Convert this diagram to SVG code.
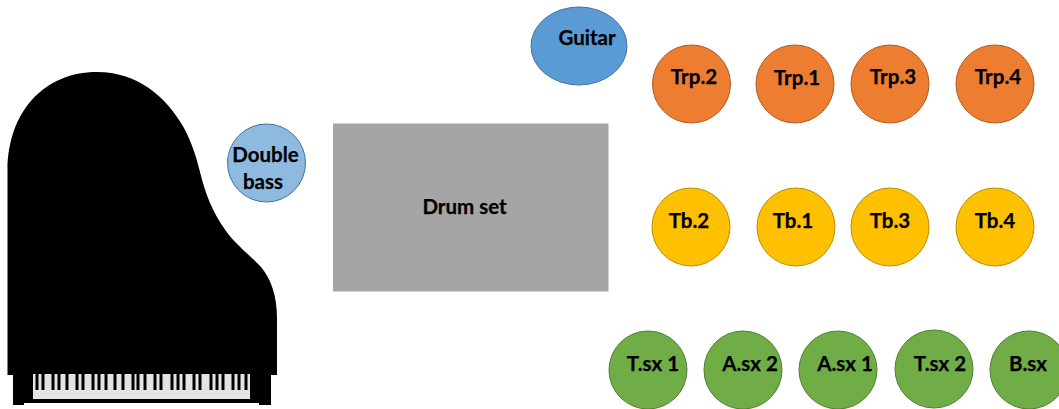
<svg xmlns="http://www.w3.org/2000/svg" width="1059" height="409" viewBox="0 0 1059 409">
<style>
text{font-family:Lato,"Liberation Sans",sans-serif;font-weight:700;font-size:20.5px;fill:#000;text-anchor:middle;stroke:#000;stroke-width:.25px}
.brass{fill:#ed7d31;stroke:#ae5a21;stroke-width:1}
.tb{fill:#ffc000;stroke:#bc8c00;stroke-width:1}
.sax{fill:#70ad47;stroke:#507e32;stroke-width:1}
</style>
<rect width="1059" height="409" fill="#fff"/>
<g id="piano">
<path fill="#000" d="M7.500 375V170C8 112 44 72 97 72C137 72 166 96 184 128C193 145 197 160 200 172C205 192 212 212 226 231C237 246 250 255 261 267C271 279 277 296 277 318V375H271V405H13V375Z"/>
<rect x="24" y="403" width="235" height="6" fill="#fff"/>
<rect x="33" y="374" width="217" height="25" fill="#e4e4e4"/>
<!-- black keys, in their groups of two and three -->
<path id="keys" stroke="#000" stroke-width="3" d="M37 374v16M43 374v16M53 374v16M59 374v16M67 374v16M77 374v16M83 374v16M93 374v16M99 374v16M106 374v16M115 374v16M123 374v16M133 374v16M138 374v16M145 374v16M155 374v16M161 374v16M172 374v16M178 374v16M184 374v16M194 374v16M200 374v16M211 374v16M217 374v16M223 374v16M233 374v16M239 374v16M246 374v16"/>
</g>
<g id="double-bass"><circle cx="266.500" cy="163" r="39" fill="#8fbae0" stroke="#41719c"/><text x="265.500" y="162">Double</text><text x="263" y="189">bass</text></g>
<g id="drum-set"><rect x="333" y="123.500" width="275.500" height="168" fill="#a5a5a5"/><text x="464.500" y="214">Drum set</text></g>
<g id="guitar"><ellipse cx="579" cy="46" rx="48" ry="39" fill="#5b9bd5" stroke="#41719c"/><text x="587" y="45">Guitar</text></g>
<g id="trp-2"><circle class="brass" cx="691.500" cy="84" r="39"/><text x="694" y="84">Trp.2</text></g>
<g id="trp-1"><circle class="brass" cx="795" cy="84" r="39"/><text x="797" y="85">Trp.1</text></g>
<g id="trp-3"><circle class="brass" cx="890" cy="84" r="39"/><text x="893" y="84">Trp.3</text></g>
<g id="trp-4"><circle class="brass" cx="995" cy="84" r="39"/><text x="998" y="84">Trp.4</text></g>
<g id="tb-2"><circle class="tb" cx="691" cy="227" r="39"/><text x="689" y="228">Tb.2</text></g>
<g id="tb-1"><circle class="tb" cx="796" cy="227" r="39"/><text x="793" y="228">Tb.1</text></g>
<g id="tb-3"><circle class="tb" cx="890" cy="227" r="39"/><text x="890" y="228">Tb.3</text></g>
<g id="tb-4"><circle class="tb" cx="995" cy="227" r="39"/><text x="995" y="228">Tb.4</text></g>
<g id="t-sx-1"><circle class="sax" cx="648" cy="370" r="39"/><text x="653" y="371">T.sx 1</text></g>
<g id="a-sx-2"><circle class="sax" cx="743" cy="370" r="39"/><text x="750" y="371">A.sx 2</text></g>
<g id="a-sx-1"><circle class="sax" cx="838" cy="370" r="39"/><text x="845" y="371">A.sx 1</text></g>
<g id="t-sx-2"><circle class="sax" cx="934" cy="369" r="39"/><text x="940" y="371">T.sx 2</text></g>
<g id="b-sx"><circle class="sax" cx="1029" cy="370" r="39"/><text x="1028" y="371">B.sx</text></g>
</svg>
